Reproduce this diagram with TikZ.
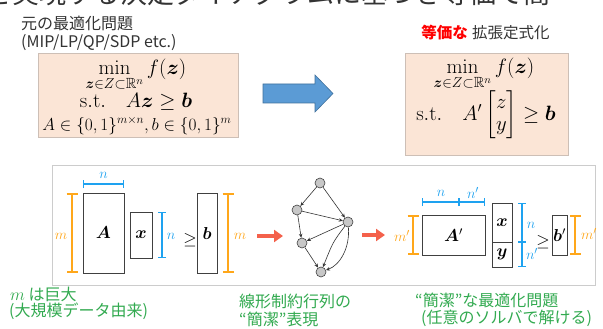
\documentclass[tikz,border=0pt]{standalone}
\usepackage[no-math]{fontspec}
\usepackage{amsmath,amssymb,bm}
\newfontfamily\jp{Noto Sans CJK JP}
\usetikzlibrary{arrows.meta}
\definecolor{peach}{HTML}{FBE5D6}
\definecolor{peachline}{HTML}{CDBFB6}
\definecolor{arrowblue}{HTML}{5B9BD5}
\definecolor{arrowblueline}{HTML}{41719C}
\definecolor{arrowred}{HTML}{F4614B}
\definecolor{orng}{HTML}{FFA71A}
\definecolor{lblue}{HTML}{1EA2F0}
\definecolor{grn}{RGB}{50,170,80}
\definecolor{txt}{HTML}{333333}
\definecolor{boxline}{HTML}{404040}
\tikzset{
  jptext/.style={font=\jp\fontsize{16}{18}\selectfont, text=txt, inner sep=0pt},
  grtext/.style={font=\jp\fontsize{16}{18}\selectfont, text=grn, inner sep=0pt, anchor=west},
  mathbig/.style={font=\fontsize{20}{22}\selectfont, inner sep=0pt, text=black},
  fbox/.style={draw=peachline, fill=peach, line width=0.8pt, inner sep=0pt},
  mbox/.style={draw=boxline, line width=1pt, inner sep=0pt, font=\fontsize{17}{19}\selectfont},
  obr/.style={draw=orng, line width=2.4pt, {Bar[width=11pt]}-{Bar[width=11pt]}},
  bbr/.style={draw=lblue, line width=1.2pt, {Bar[width=8pt]}-{Bar[width=8pt]}},
  olab/.style={text=orng, inner sep=0pt, font=\fontsize{15}{17}\selectfont},
  blab/.style={text=lblue, inner sep=0pt, font=\fontsize{15}{17}\selectfont},
  gnode/.style={circle, draw=black!75, fill=black!22, minimum size=10pt, inner sep=0pt, line width=0.6pt},
  gedge/.style={draw=black!80, line width=0.6pt, -{Stealth[length=4pt,width=3.5pt]}},
  redarrow/.style={draw=arrowred, line width=4pt, -{Triangle[length=9pt,width=12pt]}},
}
\begin{document}
\begin{tikzpicture}[x=1pt,y=-1pt]
\useasboundingbox (0,0) rectangle (603,329);
\fill[white] (0,0) rectangle (603,329);
% clipped heading
\begin{scope}
\clip (0,0) rectangle (603,329);
\node[anchor=base west, font=\jp\fontsize{27}{30}\selectfont, text=txt, inner sep=0pt] (head) at (-15,4) {を実現する決定ダイアグラムに基づき等価で簡};
\end{scope}

% ---------- upper left
\node[jptext, anchor=west] (orig1) at (21,23) {元の最適化問題};
\node[jptext, anchor=west] (orig2) at (21,43) {(MIP/LP/QP/SDP etc.)};
\node[fbox, minimum width=200pt, minimum height=84pt] (lbox) at (138,95) {};
\node[mathbig, anchor=base, font=\fontsize{21}{23}\selectfont] (l1) at (136,75) {$\displaystyle\min_{\bm z\in Z\subset\mathbb{R}^n} f(\bm z)$};
\node[mathbig, anchor=base] (l2) at (136,108) {$\mathrm{s.t.}\quad A\bm z\geq \bm b$};
\node[mathbig, anchor=base, font=\fontsize{17}{19}\selectfont] (l3) at (137,130) {$A\in\{0,1\}^{m\times n}, b\in\{0,1\}^m$};

% ---------- big arrow
\fill[arrowblue, draw=arrowblueline, line width=0.6pt] (263,84) -- (315,84) -- (315,75) -- (333,93.5) -- (315,112) -- (315,103) -- (263,103) -- cycle;

% ---------- upper right
\node[anchor=east, inner sep=0pt, font=\jp\bfseries\fontsize{15.5}{18}\selectfont, text=red] (eq) at (468,33) {等価な};
\node[jptext, anchor=west, font=\jp\fontsize{15.5}{18}\selectfont] (ext) at (472,33) {拡張定式化};
\node[fbox, minimum width=163pt, minimum height=102pt] (rbox) at (486.5,104) {};
\node[mathbig, anchor=base, font=\fontsize{21}{23}\selectfont] (r1) at (484,74) {$\displaystyle\min_{\bm z\in Z\subset\mathbb{R}^n} f(\bm z)$};
\node[mathbig, anchor=center] (r2) at (486,115) {$\mathrm{s.t.}\quad A'\begin{bmatrix} z\\ y\end{bmatrix}\geq \bm b$};

% ---------- bottom panel
\node[draw=black!20, line width=0.7pt, minimum width=543pt, minimum height=120pt, inner sep=0pt] (panel) at (323.5,225) {};

% left matrices
\node[mbox, minimum width=41pt, minimum height=80pt] (A) at (103.5,233) {$\bm A$};
\node[mbox, minimum width=22pt, minimum height=46pt] (x) at (141,235) {$\bm x$};
\node[mbox, minimum width=20pt, minimum height=80pt] (b) at (207,233) {$\bm b$};
\node[inner sep=0pt, font=\fontsize{17}{19}\selectfont] (ge1) at (190,240) {$\geq$};
\coordinate (oL1) at (72,193); \coordinate (oL2) at (72,273);
\draw[obr] (oL1) -- (oL2);
\node[olab] (mL) at (61,236) {$m$};
\coordinate (oR1) at (228,193); \coordinate (oR2) at (228,273);
\draw[obr] (oR1) -- (oR2);
\node[olab] (mR) at (240,236) {$m$};
\coordinate (nH1) at (83,184); \coordinate (nH2) at (124,184);
\draw[bbr] (nH1) -- (nH2);
\node[blab] (nHl) at (103.5,175) {$n$};
\coordinate (nV1) at (162,212); \coordinate (nV2) at (162,258);
\draw[bbr] (nV1) -- (nV2);
\node[blab] (nVl) at (171,236) {$n$};

% red arrows
\coordinate (ra1s) at (257,236); \coordinate (ra1e) at (283,236);
\draw[redarrow] (ra1s) -- (ra1e);
\coordinate (ra2s) at (362,235); \coordinate (ra2e) at (385,235);
\draw[redarrow] (ra2s) -- (ra2e);

% graph
\node[gnode] (g1) at (320,183) {};
\node[gnode] (g2) at (297,210) {};
\node[gnode] (g3) at (348,222) {};
\node[gnode] (g4) at (302,243) {};
\node[gnode] (g5) at (321,272) {};
\draw[gedge] (g1) -- (g2);
\draw[gedge] (g1) -- (g3);
\draw[gedge] (g2) -- (g3);
\draw[gedge] (g2) -- (g4);
\draw[gedge] (g3) -- (g4);
\draw[gedge] (g4) -- (g5);
\draw[gedge] (g3) .. controls (333,242) .. (g5);
\draw[gedge] (g3) .. controls (350,248) and (340,265) .. (g5);

% right matrices
\node[mbox, minimum width=63pt, minimum height=40pt] (Ap) at (453.5,235) {$\bm A'$};
\node[mbox, minimum width=20pt, minimum height=39pt] (xx) at (502,222.5) {$\bm x$};
\node[mbox, minimum width=20pt, minimum height=25pt] (yy) at (502,254.5) {$\bm y$};
\node[mbox, minimum width=15pt, minimum height=40pt] (bp) at (559.5,235) {$\bm b'$};
\node[inner sep=0pt, font=\fontsize{17}{19}\selectfont] (ge2) at (543,242) {$\geq$};
\coordinate (oA1) at (413,215); \coordinate (oA2) at (413,255);
\draw[obr] (oA1) -- (oA2);
\node[olab] (mpL) at (402,236) {$m'$};
\coordinate (oB1) at (575,215); \coordinate (oB2) at (575,255);
\draw[obr] (oB1) -- (oB2);
\node[olab] (mpR) at (589,234) {$m'$};
\coordinate (hb1) at (422,202); \coordinate (hb2) at (485,202); \coordinate (hbm) at (459,202);
\draw[bbr] (hb1) -- (hb2);
\draw[draw=lblue, line width=1.2pt] ([yshift=-4pt]hbm) -- ([yshift=4pt]hbm);
\node[blab] (hn) at (441,193) {$n$};
\node[blab] (hnp) at (473,193) {$n'$};
\coordinate (vb1) at (522,203); \coordinate (vb2) at (522,267); \coordinate (vbm) at (522,242);
\draw[bbr] (vb1) -- (vb2);
\draw[draw=lblue, line width=1.2pt] ([xshift=-4pt]vbm) -- ([xshift=4pt]vbm);
\node[blab] (vn) at (531,225) {$n$};
\node[blab] (vnp) at (532,254) {$n'$};

% green captions
\node[grtext] (c1a) at (10,294) {$m$ は巨大};
\node[grtext] (c1b) at (9,311) {(大規模データ由来)};
\node[grtext] (c2a) at (239,301) {線形制約行列の};
\node[grtext] (c2b) at (239,319) {“簡潔”表現};
\node[grtext] (c3a) at (415,300) {“簡潔”な最適化問題};
\node[grtext] (c3b) at (421,318) {(任意のソルバで解ける)};
\end{tikzpicture}
\end{document}
